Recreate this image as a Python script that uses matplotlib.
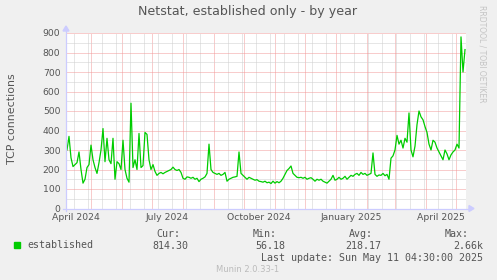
import numpy as np
import matplotlib
matplotlib.use("Agg")
import matplotlib.pyplot as plt
import matplotlib.dates as mdates
from matplotlib.patches import Rectangle, Polygon
from matplotlib.lines import Line2D
from datetime import datetime, timedelta

W, H = 497, 280

last_update = datetime(2025, 5, 11, 4, 30)
start = last_update - timedelta(days=400)

# established TCP connections, one reading every 2 days
established = [
    300, 370, 260, 215, 225, 235, 290, 200, 130, 150,
    210, 225, 325, 250, 210, 180, 235, 300, 410, 240,
    360, 250, 230, 360, 150, 240, 230, 200, 350, 200,
    155, 135, 540, 210, 250, 200, 385, 210, 220, 390,
    380, 250, 200, 225, 190, 170, 180, 185, 178, 185,
    190, 195, 200, 212, 200, 195, 200, 185, 155, 150,
    162, 160, 155, 160, 150, 155, 138, 150, 155, 162,
    180, 330, 200, 185, 180, 175, 180, 170, 175, 185,
    140, 150, 155, 160, 162, 165, 290, 180, 170, 160,
    150, 160, 155, 150, 145, 148, 140, 138, 135, 140,
    132, 135, 128, 140, 130, 138, 132, 140, 155, 175,
    195, 205, 218, 180, 170, 160, 158, 160, 155, 160,
    150, 155, 158, 150, 140, 150, 145, 150, 140, 135,
    130, 140, 150, 170, 145, 150, 160, 150, 155, 165,
    150, 160, 170, 165, 175, 180, 170, 185, 175, 180,
    170, 175, 180, 285, 175, 165, 172, 170, 180, 168,
    175, 150, 258, 270, 300, 375, 330, 350, 310, 360,
    340, 490, 300, 265, 320, 430, 500, 470, 455, 420,
    390, 330, 300, 350, 340, 310, 290, 270, 250, 300,
    280, 250, 275, 290, 300, 330, 310, 880, 700, 815,
]
times = [start + timedelta(days=1 + 2 * i) for i in range(len(established))]

label_names = ["April 2024", "July 2024", "October 2024", "January 2025", "April 2025"]
label_dates = [datetime(2024, 4, 16), datetime(2024, 7, 16), datetime(2024, 10, 16),
               datetime(2025, 1, 16), datetime(2025, 4, 16)]
stat_names = ["Cur:", "Min:", "Avg:", "Max:"]
stat_values = ["814.30", "56.18", "218.17", "2.66k"]

TXT = "#555555"
MONO = "DejaVu Sans Mono"


def fx(x):
    return x / W


def fy(y):
    return 1 - y / H


fig = plt.figure(figsize=(W / 100, H / 100), dpi=100, facecolor="#F0F0F0")
ax = fig.add_axes([fx(66), fy(208.5), 400 / W, 175.5 / H])
ax.set_facecolor("white")

ax.plot(times, established, color="#00CC00", lw=0.9, zorder=3)

ax.set_xlim(start, last_update)
ax.set_ylim(0, 900)

ax.xaxis.set_major_locator(mdates.MonthLocator())
ax.xaxis.set_major_formatter(plt.NullFormatter())
sundays = [datetime(2024, 4, 14) + timedelta(days=14 * k) for k in range(29)]
ax.set_xticks([d for d in sundays if d < last_update], minor=True)
ax.set_yticks(np.arange(0, 901, 100))
ax.set_yticks(np.arange(50, 900, 100), minor=True)

ax.grid(which="minor", color="#CFCFCF", lw=0.72, ls=(0, (1, 1)), zorder=1)
ax.grid(which="major", color="#F29A9A", lw=0.72, ls=(0, (1, 1)), zorder=2)
ax.tick_params(which="both", length=0)
ax.tick_params(axis="y", pad=4, labelsize=6.7, labelcolor=TXT)
for s in ax.spines.values():
    s.set_visible(False)

for d, name in zip(label_dates, label_names):
    ax.text(d, -0.054, name, transform=ax.get_xaxis_transform(), ha="center",
            va="center", fontsize=6.7, color=TXT)

# axes with arrows, rrdtool style
axc = "#CCCCFF"
fig.add_artist(Line2D([fx(66), fx(66)], [fy(211), fy(30)], color=axc, lw=0.9))
fig.add_artist(Line2D([fx(63), fx(470)], [fy(208.5), fy(208.5)], color=axc, lw=0.9))
fig.add_artist(Polygon([[fx(63), fy(31)], [fx(69), fy(31)], [fx(66), fy(26)]], color=axc))
fig.add_artist(Polygon([[fx(469), fy(205.5)], [fx(469), fy(211.5)], [fx(474), fy(208.5)]], color=axc))

fig.text(fx(248), fy(12), "Netstat, established only - by year", ha="center",
         va="center", fontsize=9.1, color=TXT)
fig.text(fx(12), fy(119), "TCP connections", rotation=90, ha="center",
         va="center", fontsize=7.9, color=TXT)
fig.text(fx(482), fy(5), "RRDTOOL / TOBI OETIKER", rotation=270, ha="center",
         va="top", fontsize=5.5, color="#C4C4C4")

# legend
fig.add_artist(Rectangle((fx(14), fy(248)), 6 / W, 6 / H, color="#00CC00"))
fig.text(fx(27), fy(245), "established", ha="left", va="center",
         fontsize=7.2, family=MONO, color=TXT)
name_right = [180, 277, 373, 469]
value_right = [188, 285, 381, 483]
for n, v, nr, vr in zip(stat_names, stat_values, name_right, value_right):
    fig.text(fx(nr), fy(234), n, ha="right", va="center", fontsize=7.2,
             family=MONO, color=TXT)
    fig.text(fx(vr), fy(246), v, ha="right", va="center", fontsize=7.2,
             family=MONO, color=TXT)
fig.text(fx(483), fy(258), "Last update: Sun May 11 04:30:00 2025", ha="right",
         va="center", fontsize=7.2, family=MONO, color=TXT)
fig.text(fx(248), fy(269), "Munin 2.0.33-1", ha="center", va="center",
         fontsize=6, color="#BBBBBB")

fig.savefig("out.png", dpi=100, facecolor=fig.get_facecolor())
